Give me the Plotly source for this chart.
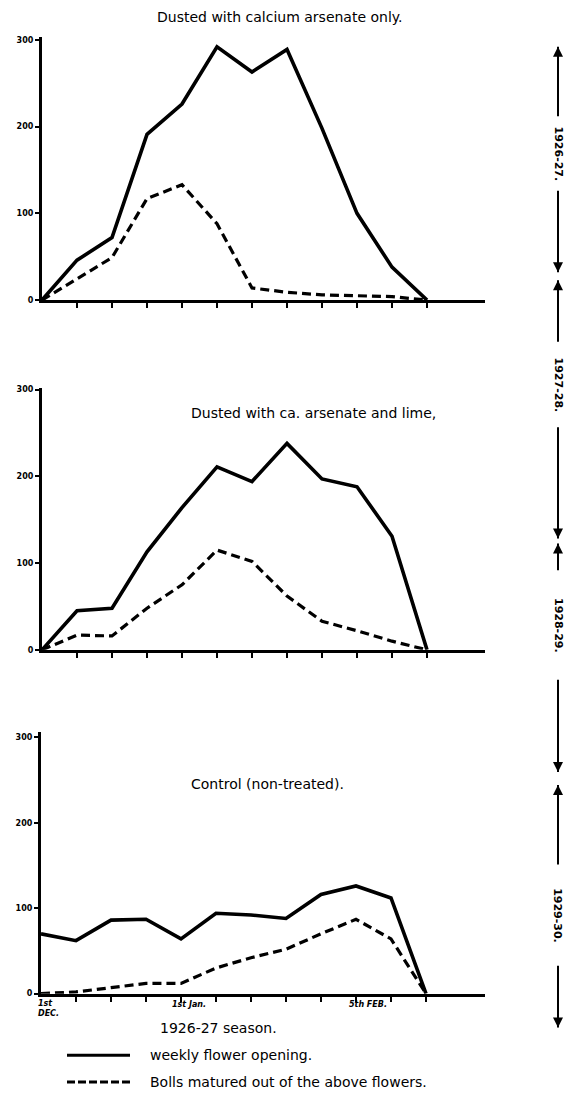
import plotly.graph_objects as go

W, H = 572, 1097

weeks = list(range(12))

top_flowers = [0, 46, 72, 191, 226, 292, 263, 289, 198, 100, 38, 0]
top_bolls = [0, 25, 49, 117, 133, 88, 14, 9, 6, 5, 4, 0]

mid_flowers = [0, 45, 48, 113, 164, 211, 194, 238, 197, 188, 131, 0]
mid_bolls = [0, 17, 16, 48, 75, 115, 102, 62, 33, 22, 10, 0]

ctl_flowers = [70, 62, 86, 87, 64, 94, 92, 88, 116, 126, 112, 0]
ctl_bolls = [0, 2, 7, 12, 12, 30, 42, 52, 70, 87, 64, 0]

titles = ["Dusted with calcium arsenate only.",
          "Dusted with ca. arsenate and lime,",
          "Control (non-treated)."]
y_ticks = [0, 100, 200, 300]
x_labels = [(0, "1st<br>DEC."), (4, "1st Jan."), (9, "5th FEB.")]
seasons = ["1926-27.", "1927-28.", "1928-29.", "1929-30."]
legend_texts = ["weekly flower opening.", "Bolls matured out of the above flowers."]
season_caption = "1926-27 season."


def px(x):
    return x / W


def py(y):
    return 1 - y / H


FONT = "DejaVu Sans"
# panel geometry in pixels: (x_left, x_right, y_top, y_bottom, px_per_100)
panels = [
    (42, 485, 35, 300, 87.3),
    (42, 485, 388, 652, 87.3),
    (41, 485, 735, 998, 86.0),
]
series = [(top_flowers, top_bolls), (mid_flowers, mid_bolls), (ctl_flowers, ctl_bolls)]

fig = go.Figure()
step = 35.0
for i, ((x0, x1, yt, yb, per100), (fl, bo)) in enumerate(zip(panels, series)):
    n = "" if i == 0 else str(i + 1)
    xa, ya = "x" + n, "y" + n
    fig.add_trace(go.Scatter(x=weeks, y=fl, mode="lines", xaxis=xa, yaxis=ya,
                             line=dict(color="black", width=3.6), showlegend=False))
    fig.add_trace(go.Scatter(x=weeks, y=bo, mode="lines", xaxis=xa, yaxis=ya,
                             line=dict(color="black", width=3.2, dash="9px,5px"),
                             showlegend=False))
    xmax = (x1 - x0) / step
    ymax = (yb - yt) / per100 * 100
    fig.update_layout({
        "xaxis" + n: dict(domain=[px(x0), px(x1)], range=[0, xmax], showgrid=False,
                          zeroline=False, showline=True, linecolor="black", linewidth=2.8,
                          tickvals=list(range(1, 12)), ticks="outside", ticklen=5,
                          tickwidth=2, tickcolor="black", showticklabels=False,
                          anchor=ya),
        "yaxis" + n: dict(domain=[py(yb), py(yt)], range=[0, ymax], showgrid=False,
                          zeroline=False, showline=True, linecolor="black", linewidth=3.2,
                          tickvals=y_ticks, ticktext=[str(v) for v in y_ticks],
                          ticks="outside", ticklen=4, tickwidth=1.5, tickcolor="black",
                          tickfont=dict(family=FONT, size=8, color="black", weight="bold"),
                          anchor=xa),
    })


def note(text, x, y, size=14, xanchor="center", **kw):
    fontkw = kw.pop("fontkw", {})
    fig.add_annotation(text=text, x=px(x), y=py(y), xref="paper", yref="paper",
                       xanchor=xanchor, yanchor="middle", showarrow=False,
                       font=dict(family=FONT, size=size, color="black", **fontkw), **kw)


# panel titles
title_pos = [(280, 15), (313, 414), (267, 787)]
for t, (tx, ty) in zip(titles, title_pos):
    note(t, tx, ty)

# bottom x labels (placed just below the axis of the bottom panel)
label_px = [(36, 1013), (170, 1009), (347, 1009)]
for (idx, lab), (lx, ly) in zip(x_labels, label_px):
    note(lab, lx, ly, size=8, xanchor="left", align="left",
         fontkw=dict(style="italic", weight="bold"))

note(season_caption, 158, 1033, xanchor="left")

# legend samples and texts
leg_y = [1060, 1087]
fig.add_shape(type="line", x0=px(67), x1=px(130), y0=py(leg_y[0]), y1=py(leg_y[0]),
              xref="paper", yref="paper", line=dict(color="black", width=3))
fig.add_shape(type="line", x0=px(67), x1=px(130), y0=py(leg_y[1]), y1=py(leg_y[1]),
              xref="paper", yref="paper", line=dict(color="black", width=3, dash="8px,3px"))
for t, ly in zip(legend_texts, leg_y):
    note(t, 148, ly, xanchor="left")

# right side season arrows: (top tip, label top, label bottom, bottom tip)
arrows = [(45, 115, 190, 272), (280, 342, 428, 540), (545, 572, 682, 775), (788, 868, 970, 1032)]
ax_x = 558
for s, (tt, lt, lb, bt) in zip(seasons, arrows):
    for tip, tail in ((tt, lt), (bt, lb)):
        fig.add_shape(type="line", x0=px(ax_x), x1=px(ax_x), y0=py(tip), y1=py(tail),
                      xref="paper", yref="paper", line=dict(color="black", width=2))
        fig.add_annotation(text="", x=px(ax_x), y=py(tip), xref="paper", yref="paper",
                           ax=0, ay=tail - tip,
                           showarrow=True, arrowhead=2, arrowsize=1,
                           arrowwidth=2, arrowcolor="black")
    note(s, ax_x, (lt + lb) / 2, size=11, textangle=90, fontkw=dict(weight="bold"))

fig.update_layout(width=W, height=H, margin=dict(l=0, r=0, t=0, b=0),
                  paper_bgcolor="white", plot_bgcolor="white", showlegend=False)

fig.write_html("out.html", config={"displayModeBar": False},
               post_script="document.body.style.margin='0';")
